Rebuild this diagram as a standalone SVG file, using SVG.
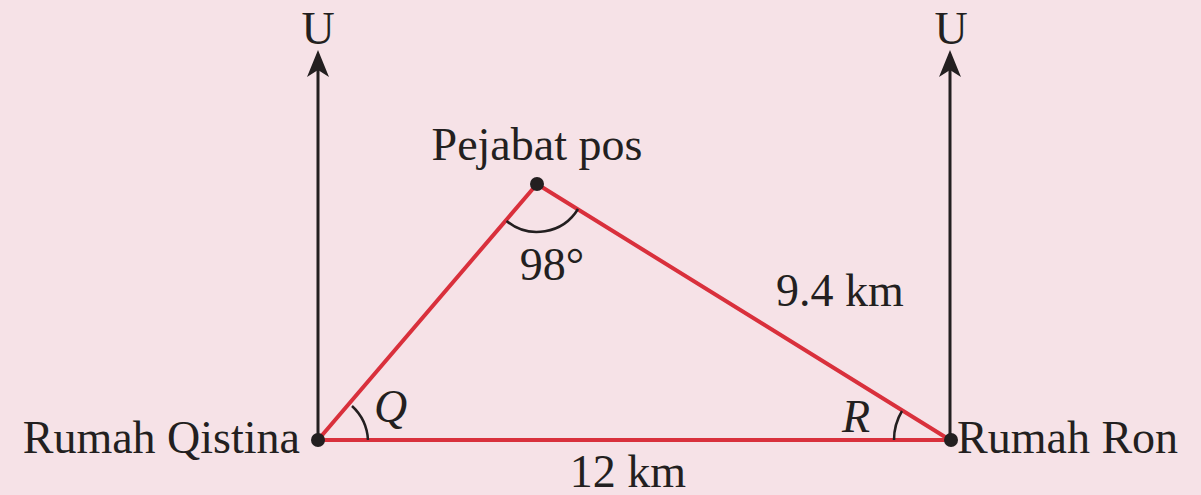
<svg xmlns="http://www.w3.org/2000/svg" width="1201" height="495" viewBox="0 0 1201 495">
<style>
.t{font-family:"Liberation Serif","Times New Roman",serif;font-size:46px;fill:#231f20}
.i{font-style:italic}
.ax{stroke:#231f20;stroke-width:3;fill:none}
.arc{stroke:#231f20;stroke-width:2.5;fill:none}
.red{stroke:#d9303c;stroke-width:4;fill:none;stroke-linejoin:round}
.head{fill:#231f20}
</style>
<rect width="1201" height="495" fill="#f6e2e7"/>
<g id="connectors">
<line class="ax" x1="318" y1="440" x2="318" y2="65"/>
<path class="head" d="M318,50 L329,77 L318,70 L307,77 Z"/>
<line class="ax" x1="950" y1="440" x2="950" y2="65"/>
<path class="head" d="M950,50 L961,77 L950,70 L939,77 Z"/>
<polygon class="red" points="318,440 537,184 950,440"/>
<path class="arc" d="M506.5,221 A48 48 0 0 0 578,209"/>
<path class="arc" d="M352,406 A50 50 0 0 1 368,440"/>
<path class="arc" d="M902,411 A56 56 0 0 0 894,440"/>
</g>
<g id="north-left"><text class="t" x="318" y="44" text-anchor="middle">U</text></g>
<g id="north-right"><text class="t" x="951" y="44" text-anchor="middle">U</text></g>
<g id="pejabat-pos">
<circle cx="537" cy="184" r="7" fill="#231f20"/>
<text class="t" x="537" y="160" text-anchor="middle">Pejabat pos</text>
<text class="t" x="552" y="280" text-anchor="middle">98°</text>
</g>
<g id="rumah-qistina">
<circle cx="318" cy="440" r="7" fill="#231f20"/>
<text class="t" x="300" y="453" text-anchor="end">Rumah Qistina</text>
<text class="t i" x="374" y="422">Q</text>
</g>
<g id="rumah-ron">
<circle cx="951" cy="440" r="7" fill="#231f20"/>
<text class="t" x="957" y="453">Rumah Ron</text>
<text class="t i" x="842" y="432">R</text>
</g>
<text class="t" x="628" y="487" text-anchor="middle">12 km</text>
<text class="t" x="840" y="306" text-anchor="middle">9.4 km</text>
</svg>
